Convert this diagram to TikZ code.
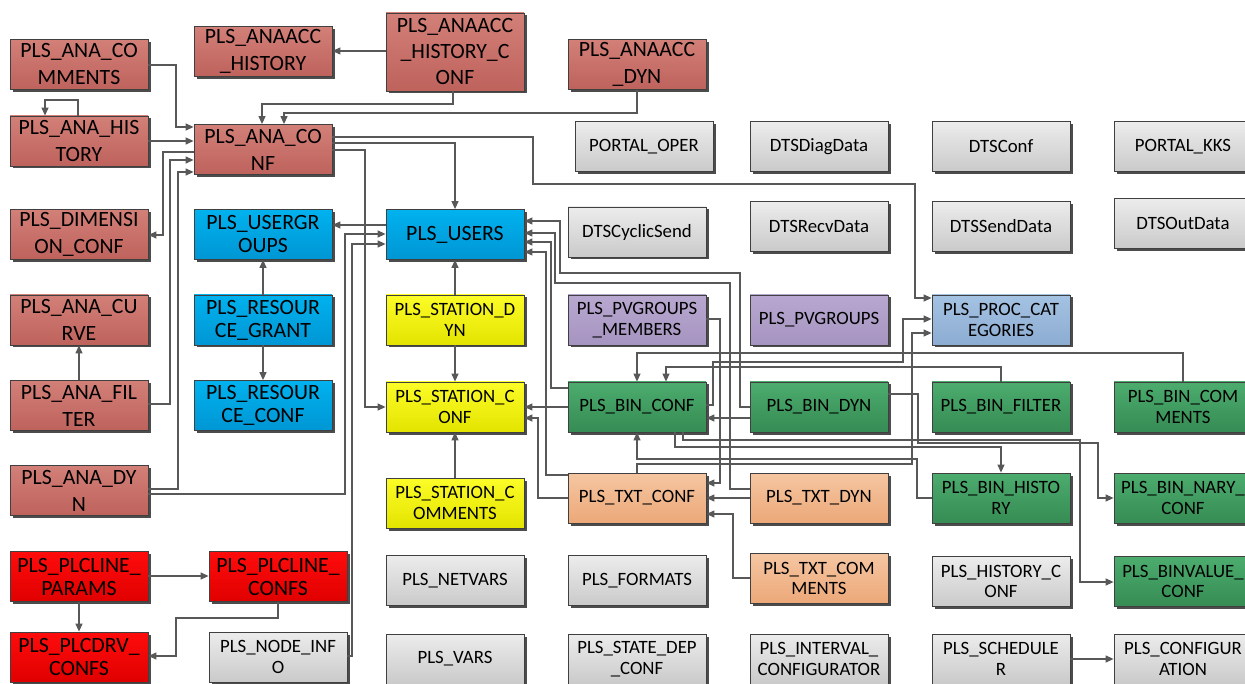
\documentclass[tikz,border=0pt]{standalone}
\usepackage{fontspec}
\setmainfont{Carlito}
\usetikzlibrary{shadows,arrows.meta}

\definecolor{brownT}{RGB}{210,128,120}
\definecolor{brownB}{RGB}{190,98,92}
\definecolor{blueT}{RGB}{0,178,238}
\definecolor{blueB}{RGB}{0,150,212}
\definecolor{yellowT}{RGB}{252,252,40}
\definecolor{yellowB}{RGB}{228,228,0}
\definecolor{greenT}{RGB}{76,172,110}
\definecolor{greenB}{RGB}{54,140,84}
\definecolor{orangeT}{RGB}{245,198,162}
\definecolor{orangeB}{RGB}{236,168,120}
\definecolor{redT}{RGB}{255,12,12}
\definecolor{redB}{RGB}{224,0,0}
\definecolor{purpleT}{RGB}{184,168,208}
\definecolor{purpleB}{RGB}{166,148,192}
\definecolor{lblueT}{RGB}{164,194,226}
\definecolor{lblueB}{RGB}{140,172,210}
\definecolor{grayT}{RGB}{236,236,236}
\definecolor{grayB}{RGB}{202,202,202}
\definecolor{edgeC}{RGB}{64,64,64}
\definecolor{lineC}{RGB}{88,88,88}

\newcommand\fbig{\fontsize{21.8}{27}\selectfont}
\newcommand\fmid{\fontsize{21.8}{23}\selectfont}
\newcommand\fsml{\fontsize{18.8}{20.5}\selectfont}

\tikzset{
  tbl/.style={draw=edgeC, line width=0.8pt, minimum width=138pt, minimum height=50pt,
    inner sep=0pt, align=center, font=\fsml,
    drop shadow={shadow xshift=2.5pt, shadow yshift=-2.5pt, fill=black!70, opacity=1}},
  brownbox/.style={tbl, top color=brownT, bottom color=brownB, font=\fbig},
  bluebox/.style={tbl, top color=blueT, bottom color=blueB, font=\fmid},
  redbox/.style={tbl, top color=redT, bottom color=redB, font=\fmid},
  yellowbox/.style={tbl, top color=yellowT, bottom color=yellowB},
  greenbox/.style={tbl, top color=greenT, bottom color=greenB},
  orangebox/.style={tbl, top color=orangeT, bottom color=orangeB},
  purplebox/.style={tbl, top color=purpleT, bottom color=purpleB},
  lbluebox/.style={tbl, top color=lblueT, bottom color=lblueB},
  graybox/.style={tbl, top color=grayT, bottom color=grayB},
  ln/.style={draw=lineC, line width=1.2pt},
  ar/.style={ln, -{Triangle[length=8pt,width=7pt]}}
}

\begin{document}
\begin{tikzpicture}[x=1pt,y=-1pt]
\useasboundingbox (0,0) rectangle (1245,684);
\fill[white] (0,0) rectangle (1245,684);

% analog tables
\node[brownbox] (anacomm) at (79,64.5) {PLS\_ANA\_CO\\MMENTS};
\node[brownbox] (ahist) at (263,51.5) {PLS\_ANAACC\\\_HISTORY};
\node[brownbox, minimum height=78pt, font=\fontsize{21.8}{26}\selectfont] (ahconf) at (455,52) {PLS\_ANAACC\\\_HISTORY\_C\\ONF};
\node[brownbox] (adyn) at (637,64.5) {PLS\_ANAACC\\\_DYN};
\node[brownbox] (anahist) at (79,141) {PLS\_ANA\_HIS\\TORY};
\node[brownbox] (anaconf) at (263,149.5) {PLS\_ANA\_CO\\NF};
\node[brownbox] (dimconf) at (79,234.5) {PLS\_DIMENSI\\ON\_CONF};
\node[brownbox] (anacurve) at (79,320) {PLS\_ANA\_CU\\RVE};
\node[brownbox] (anafilter) at (79,405.5) {PLS\_ANA\_FIL\\TER};
\node[brownbox] (anadyn) at (79,490.5) {PLS\_ANA\_DY\\N};

% plc tables
\node[redbox] (plparams) at (79,576.5) {PLS\_PLCLINE\_\\PARAMS};
\node[redbox] (plconfs) at (278,576.5) {PLS\_PLCLINE\_\\CONFS};
\node[redbox] (plcdrv) at (79,657) {PLS\_PLCDRV\_\\CONFS};

% users and resources
\node[bluebox] (ugroups) at (263,234.5) {PLS\_USERGR\\OUPS};
\node[bluebox] (users) at (455,234.5) {PLS\_USERS};
\node[bluebox] (rgrant) at (263,320) {PLS\_RESOUR\\CE\_GRANT};
\node[bluebox] (rconf) at (263,405.5) {PLS\_RESOUR\\CE\_CONF};

% stations
\node[yellowbox] (stdyn) at (455,320) {PLS\_STATION\_D\\YN};
\node[yellowbox] (stconf) at (455,407) {PLS\_STATION\_C\\ONF};
\node[yellowbox] (stcomm) at (455,503) {PLS\_STATION\_C\\OMMENTS};

% binary and text tables
\node[purplebox] (pvgm) at (637,320) {PLS\_PVGROUPS\\\_MEMBERS};
\node[purplebox] (pvg) at (819,320) {PLS\_PVGROUPS};
\node[lbluebox] (proccat) at (1001,320) {PLS\_PROC\_CAT\\EGORIES};
\node[greenbox] (binconf) at (637,407) {PLS\_BIN\_CONF};
\node[greenbox] (bindyn) at (819,407) {PLS\_BIN\_DYN};
\node[greenbox] (binfilter) at (1001,407) {PLS\_BIN\_FILTER};
\node[greenbox] (bincomm) at (1183,407) {PLS\_BIN\_COM\\MENTS};
\node[orangebox] (txtconf) at (637,498) {PLS\_TXT\_CONF};
\node[orangebox] (txtdyn) at (819,498) {PLS\_TXT\_DYN};
\node[greenbox] (binhist) at (1001,498) {PLS\_BIN\_HISTO\\RY};
\node[greenbox] (binnary) at (1183,498) {PLS\_BIN\_NARY\_\\CONF};
\node[orangebox] (txtcomm) at (819,578.5) {PLS\_TXT\_COM\\MENTS};
\node[greenbox] (binvalue) at (1183,581.5) {PLS\_BINVALUE\_\\CONF};

% standalone tables
\node[graybox] (portaloper) at (644,146.5) {PORTAL\_OPER};
\node[graybox] (dtsdiag) at (819,146.5) {DTSDiagData};
\node[graybox] (dtsconf) at (1001,146.5) {DTSConf};
\node[graybox] (portalkks) at (1183,146.5) {PORTAL\_KKS};
\node[graybox] (dtscyc) at (637,232) {DTSCyclicSend};
\node[graybox] (dtsrecv) at (819,226.5) {DTSRecvData};
\node[graybox] (dtssend) at (1001,226.5) {DTSSendData};
\node[graybox] (dtsout) at (1183,223.5) {DTSOutData};
\node[graybox] (netvars) at (455,580.5) {PLS\_NETVARS};
\node[graybox] (formats) at (637,580.5) {PLS\_FORMATS};
\node[graybox] (histconf) at (1001,581.5) {PLS\_HISTORY\_C\\ONF};
\node[graybox] (nodeinfo) at (278,657) {PLS\_NODE\_INF\\O};
\node[graybox] (vars) at (455,659) {PLS\_VARS};
\node[graybox] (statedep) at (637,659) {PLS\_STATE\_DEP\\\_CONF};
\node[graybox] (interval) at (819,659) {PLS\_INTERVAL\_\\CONFIGURATOR};
\node[graybox] (sched) at (1001,659) {PLS\_SCHEDULE\\R};
\node[graybox] (config) at (1183,659) {PLS\_CONFIGUR\\ATION};

% analog links
\draw[ar] (anacomm.east |- 0,65) -- (176,65) -- (176,127) -- (anaconf.west |- 0,127);
\draw[ar] (anahist.east |- 0,141) -- (anaconf.west |- 0,141);
\draw[ar] (anahist.north -| 78,0) -- (78,100) -- (45,100) -- (anahist.north -| 45,0);
\draw[ar] (ahconf.west |- 0,51) -- (ahist.east |- 0,51);
\draw[ar] (ahconf.south -| 453,0) -- (453,104) -- (262,104) -- (anaconf.north -| 262,0);
\draw[ar] (adyn.south) -- (637,113) -- (284,113) -- (anaconf.north -| 284,0);
\draw[ar] (anaconf.west |- 0,152) -- (163,152) -- (163,235) -- (dimconf.east |- 0,235);
\draw[ar] (anafilter.east |- 0,404) -- (170,404) -- (170,160) -- (anaconf.west |- 0,160);
\draw[ar] (anadyn.east |- 0,489) -- (178,489) -- (178,172) -- (anaconf.west |- 0,172);
\draw[ar] (anafilter.north) -- (anacurve.south);
\draw[ar] (anaconf.east |- 0,143) -- (455,143) -- (users.north);
\draw[ar] (anaconf.east |- 0,150) -- (365,150) -- (365,407) -- (stconf.west |- 0,407);
\draw[ar] (anaconf.east |- 0,137) -- (533,137) -- (533,184) -- (915,184) -- (915,298) -- (proccat.west |- 0,298);

% users links
\draw[ar] (anadyn.east |- 0,494) -- (345,494) -- (345,234) -- (users.west |- 0,234);
\draw[ar] (nodeinfo.east |- 0,656) -- (352,656) -- (352,244) -- (users.west |- 0,244);
\draw[ar] (users.west |- 0,225) -- (ugroups.east |- 0,225);
\draw[ar] (rgrant.north) -- (ugroups.south);
\draw[ar] (rgrant.south) -- (rconf.north);
\draw[ar] (stdyn.north) -- (users.south);
\draw[ar] (stdyn.south) -- (stconf.north);
\draw[ar] (stcomm.north) -- (stconf.south);
\draw[ar] (bindyn.west |- 0,407) -- (740,407) -- (740,273) -- (560,273) -- (560,221) -- (users.east |- 0,221);
\draw[ar] (txtdyn.west |- 0,489) -- (730,489) -- (730,283) -- (555,283) -- (555,233) -- (users.east |- 0,233);
\draw[ar] (binconf.west |- 0,388) -- (551,388) -- (551,242) -- (users.east |- 0,242);
\draw[ar] (txtconf.west |- 0,475) -- (546,475) -- (546,252) -- (users.east |- 0,252);

% station links
\draw[ar] (binconf.west) -- (stconf.east);
\draw[ar] (txtconf.west |- 0,498) -- (538,498) -- (538,418) -- (stconf.east |- 0,418);

% binary links
\draw[ar] (bindyn.west |- 0,418) -- (binconf.east |- 0,418);
\draw[ar] (binconf.east |- 0,405) -- (713,405) -- (713,362) -- (903,362) -- (903,319) -- (proccat.west |- 0,319);
\draw[ar] (txtconf.north) -- (637,464) -- (912,464) -- (912,333) -- (proccat.west |- 0,333);
\draw[ar] (bincomm.north) -- (1183,353) -- (637,353) -- (binconf.north);
\draw[ar] (binfilter.north) -- (1001,367) -- (666,367) -- (binconf.north -| 666,0);
\draw[ar] (binhist.west) -- (917,498) -- (917,459) -- (637,459) -- (binconf.south);
\draw[ar] (binconf.south -| 675,0) -- (675,447) -- (1001,447) -- (binhist.north);
\draw[ar] (binconf.south -| 683,0) -- (683,440) -- (1080,440) -- (1080,582) -- (binvalue.west |- 0,582);
\draw[ar] (bindyn.east |- 0,394) -- (918,394) -- (918,443) -- (1098,443) -- (1098,498) -- (binnary.west |- 0,498);

% text links
\draw[ar] (pvgm.east |- 0,319) -- (720,319) -- (720,483) -- (txtconf.east |- 0,483);
\draw[ar] (txtdyn.west |- 0,498) -- (txtconf.east |- 0,498);
\draw[ar] (txtcomm.west |- 0,578) -- (733,578) -- (733,514) -- (txtconf.east |- 0,514);

% plc links
\draw[ar] (plparams.east |- 0,576) -- (plconfs.west |- 0,576);
\draw[ar] (plparams.south) -- (plcdrv.north);
\draw[ar] (plconfs.south) -- (278,618) -- (176,618) -- (176,656) -- (plcdrv.east |- 0,656);

% scheduler link
\draw[ar] (sched.east |- 0,659) -- (config.west |- 0,659);
\end{tikzpicture}
\end{document}
